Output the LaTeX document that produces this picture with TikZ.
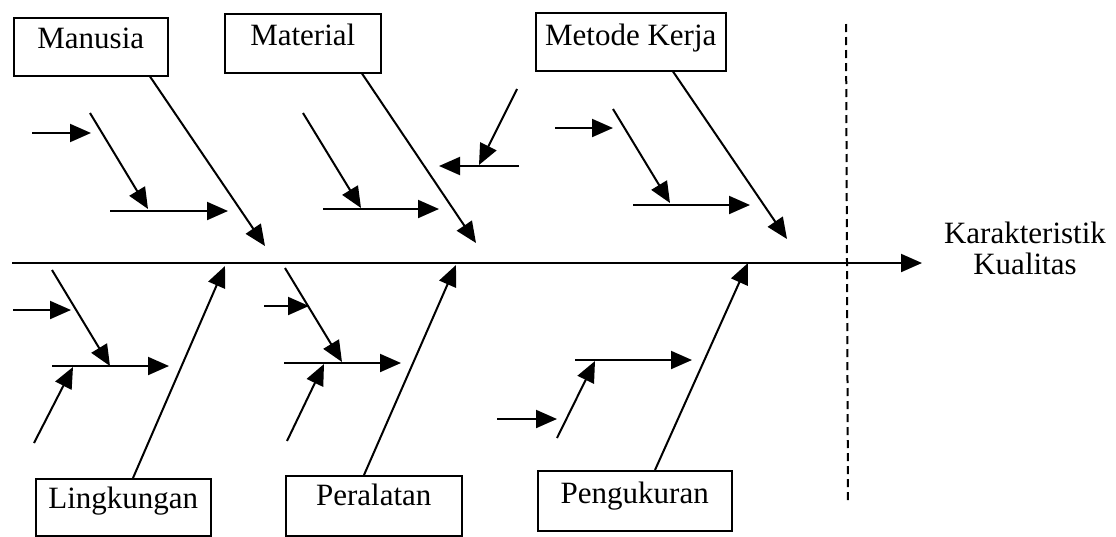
\documentclass[tikz,border=0pt]{standalone}
\usepackage{fontspec}
\setmainfont{Liberation Serif}
\usetikzlibrary{arrows.meta,calc}
\begin{document}
\begin{tikzpicture}[x=1pt,y=-1pt,
  bone/.style={line width=2pt,-{Triangle[length=21pt,width=18pt]}},
  cause/.style={draw,line width=1.5pt,inner sep=0pt,anchor=north west,
    font=\fontsize{31}{34}\selectfont},
  divider/.style={line width=2pt,dash pattern=on 8pt off 5pt},
  lbl/.style={font=\fontsize{31}{31}\selectfont,align=center,inner sep=0pt}
]
\useasboundingbox (0,0) rectangle (1116,536);

% cause boxes
\node[cause,minimum width=154pt,minimum height=58pt,text height=31pt,text depth=27pt] (man) at (13,17) {Manusia};
\node[cause,minimum width=156pt,minimum height=59pt,text height=32pt,text depth=27pt] (mat) at (224,13) {Material};
\node[cause,minimum width=190pt,minimum height=58pt,text height=33pt,text depth=25pt] (met) at (535,12) {Metode Kerja};
\node[cause,minimum width=175pt,minimum height=57pt,text height=30pt,text depth=27pt] (lin) at (35,478) {Lingkungan};
\node[cause,minimum width=176pt,minimum height=60pt,text height=30pt,text depth=30pt] (per) at (285,475) {Peralatan};
\node[cause,minimum width=194pt,minimum height=60pt,text height=33pt,text depth=27pt] (pen) at (537,470) {Pengukuran};

% effect
\node[lbl,anchor=north] (eff) at (1025,222) {Karakteristik\\Kualitas};

% spine
\coordinate (s0) at (12,263);
\coordinate (s1) at (922,263);
\draw[bone] (s0) -- (s1);

% divider
\coordinate (d0) at (846,24);
\coordinate (d1) at (848,503);
\draw[divider] (d0) -- (d1);

% main bones
\coordinate (tman) at (265,246);
\coordinate (tmat) at (476,243);
\coordinate (tmet) at (787,239);
\coordinate (tlin) at (225,266);
\coordinate (tper) at (456,265);
\coordinate (tpen) at (748,263);
\draw[bone] (150,0 |- man.south) -- (tman);
\draw[bone] (362,0 |- mat.south) -- (tmat);
\draw[bone] (673,0 |- met.south) -- (tmet);
\draw[bone] (133,0 |- lin.north) -- (tlin);
\draw[bone] (364,0 |- per.north) -- (tper);
\draw[bone] (655,0 |- pen.north) -- (tpen);

% Manusia sub-causes
\coordinate (a1) at (32,133);  \coordinate (a2) at (91,133);
\coordinate (a3) at (90,113);  \coordinate (a4) at (148,209);
\coordinate (a5) at (110,211); \coordinate (a6) at (228,211);
\draw[bone] (a1) -- (a2);
\draw[bone] (a3) -- (a4);
\draw[bone] (a5) -- (a6);

% Material sub-causes
\coordinate (b1) at (303,113); \coordinate (b2) at (361,208);
\coordinate (b3) at (323,209); \coordinate (b4) at (439,209);
\coordinate (b5) at (517,89);  \coordinate (b6) at (479,165);
\coordinate (b7) at (519,166); \coordinate (b8) at (439,166);
\draw[bone] (b1) -- (b2);
\draw[bone] (b3) -- (b4);
\draw[bone] (b5) -- (b6);
\draw[bone] (b7) -- (b8);

% Metode Kerja sub-causes
\coordinate (c1) at (555,128); \coordinate (c2) at (613,128);
\coordinate (c3) at (613,109); \coordinate (c4) at (670,203);
\coordinate (c5) at (633,205); \coordinate (c6) at (750,205);
\draw[bone] (c1) -- (c2);
\draw[bone] (c3) -- (c4);
\draw[bone] (c5) -- (c6);

% Lingkungan sub-causes
\coordinate (e1) at (52,270);  \coordinate (e2) at (110,366);
\coordinate (e3) at (13,310);  \coordinate (e4) at (71,310);
\coordinate (e5) at (52,366);  \coordinate (e6) at (169,366);
\coordinate (e7) at (34,443);  \coordinate (e8) at (73,367);
\draw[bone] (e1) -- (e2);
\draw[bone] (e3) -- (e4);
\draw[bone] (e5) -- (e6);
\draw[bone] (e7) -- (e8);

% Peralatan sub-causes
\coordinate (f1) at (285,268); \coordinate (f2) at (342,362);
\coordinate (f3) at (264,306); \coordinate (f4) at (309,306);
\coordinate (f5) at (284,363); \coordinate (f6) at (401,363);
\coordinate (f7) at (287,441); \coordinate (f8) at (324,364);
\draw[bone] (f1) -- (f2);
\draw[bone] (f3) -- (f4);
\draw[bone] (f5) -- (f6);
\draw[bone] (f7) -- (f8);

% Pengukuran sub-causes
\coordinate (g1) at (575,360); \coordinate (g2) at (692,360);
\coordinate (g3) at (557,438); \coordinate (g4) at (595,361);
\coordinate (g5) at (497,419); \coordinate (g6) at (557,419);
\draw[bone] (g1) -- (g2);
\draw[bone] (g3) -- (g4);
\draw[bone] (g5) -- (g6);
\end{tikzpicture}
\end{document}
